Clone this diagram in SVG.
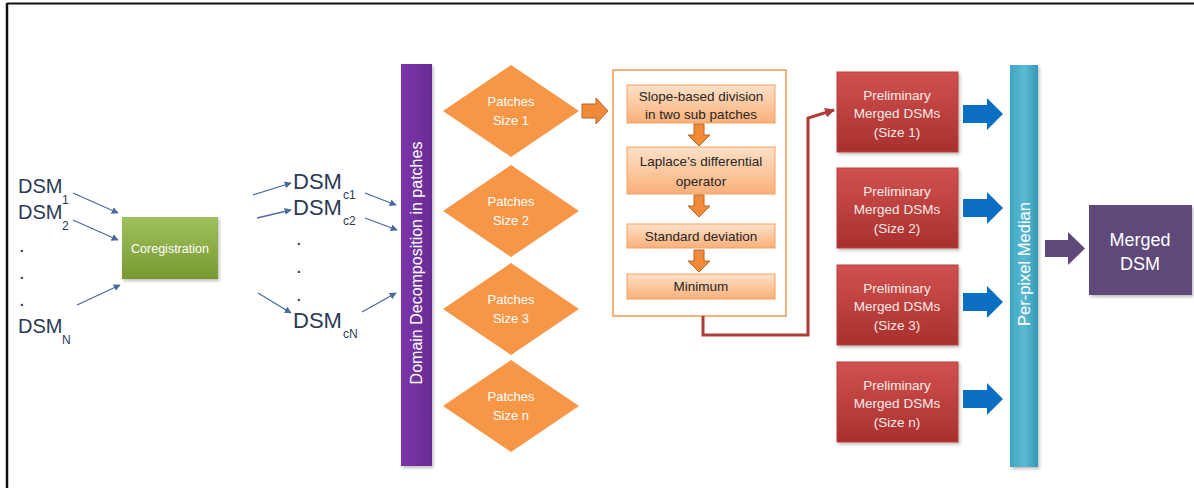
<svg xmlns="http://www.w3.org/2000/svg" width="1194" height="488" viewBox="0 0 1194 488">
<defs>
<linearGradient id="gGreen" x1="0" y1="0" x2="0" y2="1"><stop offset="0" stop-color="#9fc15e"/><stop offset="1" stop-color="#78982f"/></linearGradient>
<linearGradient id="gPurple" x1="0" y1="0" x2="1" y2="0"><stop offset="0" stop-color="#7a35a8"/><stop offset="1" stop-color="#6a2c95"/></linearGradient>
<linearGradient id="gRed" x1="0" y1="0" x2="0" y2="1"><stop offset="0" stop-color="#d0524f"/><stop offset="1" stop-color="#a8302d"/></linearGradient>
<linearGradient id="gTeal" x1="0" y1="0" x2="1" y2="0"><stop offset="0" stop-color="#3ea5c2"/><stop offset="0.5" stop-color="#5cbad2"/><stop offset="1" stop-color="#3299b6"/></linearGradient>
<linearGradient id="gPeach" x1="0" y1="0" x2="0" y2="1"><stop offset="0" stop-color="#fde1c8"/><stop offset="1" stop-color="#fab07a"/></linearGradient>
<marker id="ah" viewBox="0 0 10 10" refX="9" refY="5" markerWidth="7" markerHeight="7" orient="auto" markerUnits="userSpaceOnUse"><path d="M0,0 L10,5 L0,10 z" fill="#4a6a9c"/></marker>
<marker id="ahRed" viewBox="0 0 10 10" refX="9" refY="5" markerWidth="10" markerHeight="10" orient="auto" markerUnits="userSpaceOnUse"><path d="M0,0 L10,5 L0,10 z" fill="#b03a38"/></marker>
<filter id="sh" x="-10%" y="-10%" width="130%" height="130%"><feDropShadow dx="1.5" dy="2" stdDeviation="1.5" flood-color="#000" flood-opacity="0.25"/></filter>
</defs>
<style>
.lbl{font-family:"Liberation Sans",Arial,sans-serif;fill:#2b3a55;font-size:20px}
.lblc{font-family:"Liberation Sans",Arial,sans-serif;fill:#2b3a55;font-size:22px}
.sub{font-family:"Liberation Sans",Arial,sans-serif;fill:#2b3a55;font-size:12px}
.w{font-family:"Liberation Sans",Arial,sans-serif;fill:#ffffff;text-anchor:middle}
.dk{font-family:"Liberation Sans",Arial,sans-serif;fill:#262626;text-anchor:middle;font-size:13.5px}
.pr{font-family:"Liberation Sans",Arial,sans-serif;fill:#fbe9e9;text-anchor:middle;font-size:13.5px}
.thin{stroke:#4a6a9c;stroke-width:1.3;fill:none;marker-end:url(#ah)}
.dia{fill:#f79646}
.step{fill:url(#gPeach);stroke:#f3a060;stroke-width:1}
.prel{fill:url(#gRed);stroke:#b8403c;stroke-width:1;filter:url(#sh)}
.blue{fill:#0a6fc2}
.oarr{fill:#f08a36;stroke:#b8652a;stroke-width:1}
</style>
<rect x="0" y="0" width="1194" height="488" fill="#ffffff"/>
<line x1="7" y1="3.5" x2="1194" y2="3.5" stroke="#111" stroke-width="2"/>
<line x1="7" y1="3" x2="7" y2="488" stroke="#111" stroke-width="2.5"/>

<g id="inputs">
<text class="lbl" x="18" y="193">DSM</text><text class="sub" x="62" y="204">1</text>
<text class="lbl" x="18" y="219">DSM</text><text class="sub" x="62" y="230">2</text>
<text class="lbl" x="19" y="252">.</text>
<text class="lbl" x="19" y="279">.</text>
<text class="lbl" x="19" y="306">.</text>
<text class="lbl" x="18" y="333">DSM</text><text class="sub" x="62" y="344">N</text>
</g>

<g id="coregistration">
<rect x="122" y="217" width="96" height="62" fill="url(#gGreen)" filter="url(#sh)"/>
<text class="w" x="170" y="253" font-size="12.5">Coregistration</text>
</g>

<g id="coregistered">
<text class="lblc" x="293" y="189">DSM</text><text class="sub" x="343" y="199">c1</text>
<text class="lblc" x="293" y="215">DSM</text><text class="sub" x="343" y="225">c2</text>
<text class="lbl" x="296" y="245">.</text>
<text class="lbl" x="296" y="273">.</text>
<text class="lbl" x="296" y="301">.</text>
<text class="lblc" x="293" y="328">DSM</text><text class="sub" x="343" y="338">cN</text>
</g>

<g id="domain-decomposition">
<rect x="401" y="64" width="31" height="402" fill="url(#gPurple)" filter="url(#sh)"/>
<text class="w" font-size="16" transform="translate(422,263) rotate(-90)">Domain Decomposition in patches</text>
</g>

<g id="patches-1"><polygon class="dia" points="443,111 511,65 579,111 511,157"/><text class="w" font-size="13" x="511" y="106">Patches</text><text class="w" font-size="13" x="511" y="125">Size 1</text></g>
<g id="patches-2"><polygon class="dia" points="443,211 511,165 579,211 511,257"/><text class="w" font-size="13" x="511" y="206">Patches</text><text class="w" font-size="13" x="511" y="225">Size 2</text></g>
<g id="patches-3"><polygon class="dia" points="443,309 511,263 579,309 511,355"/><text class="w" font-size="13" x="511" y="304">Patches</text><text class="w" font-size="13" x="511" y="323">Size 3</text></g>
<g id="patches-n"><polygon class="dia" points="443,406 511,360 579,406 511,452"/><text class="w" font-size="13" x="511" y="401">Patches</text><text class="w" font-size="13" x="511" y="420">Size n</text></g>

<g id="process-box">
<rect x="613" y="70" width="173" height="246" fill="#ffffff" stroke="#f29a52" stroke-width="1.5"/>
</g>
<g id="step-slope"><rect class="step" x="627" y="85" width="148" height="38"/><text class="dk" x="701" y="101">Slope-based division</text><text class="dk" x="701" y="119">in two sub patches</text></g>
<g id="step-laplace"><rect class="step" x="627" y="147" width="148" height="47"/><text class="dk" x="701" y="166">Laplace’s differential</text><text class="dk" x="701" y="186">operator</text></g>
<g id="step-std"><rect class="step" x="627" y="224" width="148" height="24"/><text class="dk" x="701" y="241">Standard deviation</text></g>
<g id="step-min"><rect class="step" x="627" y="274" width="148" height="25"/><text class="dk" x="701" y="291">Minimum</text></g>

<g id="prelim-1"><rect class="prel" x="837" y="72" width="121" height="80"/><text class="pr" x="897" y="100">Preliminary</text><text class="pr" x="897" y="118">Merged DSMs</text><text class="pr" x="897" y="137">(Size 1)</text></g>
<g id="prelim-2"><rect class="prel" x="837" y="168" width="121" height="80"/><text class="pr" x="897" y="196">Preliminary</text><text class="pr" x="897" y="214">Merged DSMs</text><text class="pr" x="897" y="233">(Size 2)</text></g>
<g id="prelim-3"><rect class="prel" x="837" y="265" width="121" height="80"/><text class="pr" x="897" y="293">Preliminary</text><text class="pr" x="897" y="311">Merged DSMs</text><text class="pr" x="897" y="330">(Size 3)</text></g>
<g id="prelim-n"><rect class="prel" x="837" y="362" width="121" height="80"/><text class="pr" x="897" y="390">Preliminary</text><text class="pr" x="897" y="408">Merged DSMs</text><text class="pr" x="897" y="427">(Size n)</text></g>

<g id="per-pixel-median">
<rect x="1010" y="65" width="28" height="402" fill="url(#gTeal)" filter="url(#sh)"/>
<text class="w" font-size="16.5" transform="translate(1030,264) rotate(-90)">Per-pixel Median</text>
</g>

<g id="merged-dsm">
<rect x="1089" y="205" width="103" height="90" fill="#5f497a" filter="url(#sh)"/>
<text class="w" font-size="18" x="1140" y="246">Merged</text>
<text class="w" font-size="18" x="1140" y="270">DSM</text>
</g>

<g id="connectors">
<line class="thin" x1="73" y1="193" x2="118" y2="213"/>
<line class="thin" x1="73" y1="220" x2="118" y2="240"/>
<line class="thin" x1="77" y1="305" x2="120" y2="285"/>
<line class="thin" x1="253" y1="195" x2="291" y2="183"/>
<line class="thin" x1="257" y1="218" x2="291" y2="210"/>
<line class="thin" x1="258" y1="293" x2="291" y2="313"/>
<line class="thin" x1="365" y1="193" x2="396" y2="205"/>
<line class="thin" x1="365" y1="218" x2="397" y2="230"/>
<line class="thin" x1="362" y1="312" x2="396" y2="293"/>
<path class="oarr" d="M582,104 H596 V98 L608,111 L596,124 V118 H582 Z"/>
<path class="oarr" d="M694,124 H704 V135 H710 L699,146 L688,135 H694 Z"/>
<path class="oarr" d="M694,195 H704 V206 H710 L699,217 L688,206 H694 Z"/>
<path class="oarr" d="M694,250 H704 V261 H710 L699,272 L688,261 H694 Z"/>
<path d="M703,316 V335 H808 V118 L834,110" fill="none" stroke="#b03a38" stroke-width="3" marker-end="url(#ahRed)"/>
<path class="blue" d="M963,105 H987 V98 L1003,114 L987,130 V123 H963 Z"/>
<path class="blue" d="M963,199 H987 V192 L1003,208 L987,224 V217 H963 Z"/>
<path class="blue" d="M963,293 H987 V286 L1003,302 L987,318 V311 H963 Z"/>
<path class="blue" d="M963,390 H987 V383 L1003,399 L987,415 V408 H963 Z"/>
<path d="M1045,240 H1068 V232 L1085,248.5 L1068,265 V257 H1045 Z" fill="#5f497a"/>
</g>
</svg>
